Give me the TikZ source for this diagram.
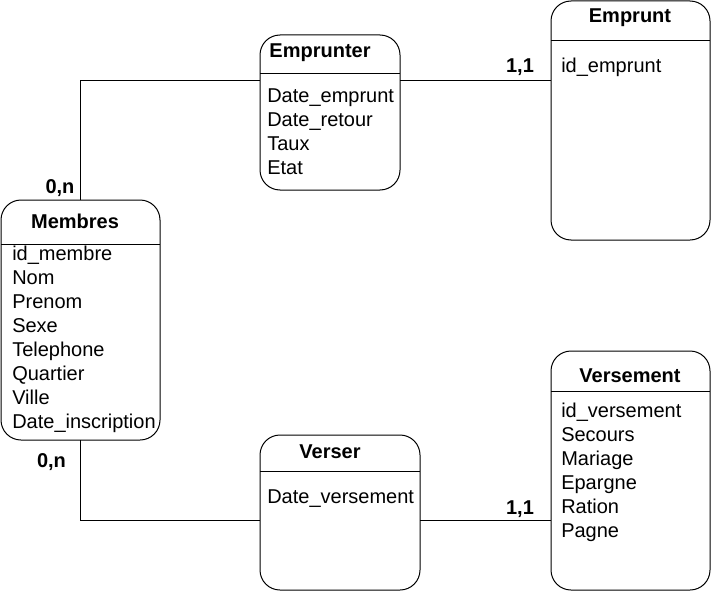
\documentclass[tikz,border=0pt]{standalone}
\usepackage{fontspec}
\setmainfont{Liberation Sans}
\usetikzlibrary{positioning}

\tikzset{
  entity/.style={draw, line width=0.75pt, rounded corners=15pt, anchor=north west, inner sep=0pt, outer sep=0pt},
  title/.style={anchor=base, font=\bfseries\fontsize{15pt}{18pt}\selectfont, inner sep=0pt},
  attr/.style={anchor=base west, font=\fontsize{15pt}{18pt}\selectfont, inner sep=0pt},
  card/.style={anchor=base, font=\bfseries\fontsize{15pt}{18pt}\selectfont, inner sep=0pt},
  link/.style={line width=0.75pt}
}

\begin{document}
\begin{tikzpicture}[x=0.75pt,y=0.75pt,yscale=-1,xscale=1]
\useasboundingbox (0,0) rectangle (713,592);

% Boxes
\node [entity, minimum width=105pt, minimum height=116.25pt] (emprunter) at (260,35) {};
\node [entity, minimum width=119.25pt, minimum height=179.25pt] (emprunt) at (551,1) {};
\node [entity, minimum width=119.25pt, minimum height=180pt] (membres) at (1,200) {};
\node [entity, minimum width=119.25pt, minimum height=179.25pt] (versement) at (551,351) {};
\node [entity, minimum width=120pt, minimum height=116.25pt] (verser) at (260,435) {};

% Header lines
\draw [link] (emprunter.west |- 0,74) -- (emprunter.east |- 0,74);
\draw [link] (emprunt.west |- 0,41) -- (emprunt.east |- 0,41);
\draw [link] (membres.west |- 0,244) -- (membres.east |- 0,244);
\draw [link] (versement.west |- 0,391) -- (versement.east |- 0,391);
\draw [link] (verser.west |- 0,471) -- (verser.east |- 0,471);

% Titles
\node [title] (emprunter-t) at (320,58) {Emprunter};
\node [title] (emprunt-t) at (630,23) {Emprunt};
\node [title] (membres-t) at (75,228) {Membres};
\node [title] (versement-t) at (630,382) {Versement};
\node [title] (verser-t) at (330,458) {Verser};

% Attributes
\foreach \a [count=\i from 0] in {Date\_emprunt,Date\_retour,Taux,Etat} {
  \node [attr] (emprunter-a\i) at (267,102+24*\i) {\a};
}
\node [attr] (emprunt-a0) at (561,73) {id\_emprunt};
\foreach \a [count=\i from 0] in {id\_membre,Nom,Prenom,Sexe,Telephone,Quartier,Ville,Date\_inscription} {
  \node [attr] (membres-a\i) at (12,260+24*\i) {\a};
}
\foreach \a [count=\i from 0] in {id\_versement,Secours,Mariage,Epargne,Ration,Pagne} {
  \node [attr] (versement-a\i) at (561,417+24*\i) {\a};
}
\node [attr] (verser-a0) at (267,503) {Date\_versement};

% Links
\draw [link] (membres.north) |- (emprunter.west |- 0,80);
\draw [link] (emprunter.east |- 0,80) -- (emprunt.west |- 0,80);
\draw [link] (membres.south) |- (verser.west |- 0,520);
\draw [link] (verser.east |- 0,520) -- (versement.west |- 0,520);

% Cardinalities
\node [card] (c1) at (60,193) {0,n};
\node [card] (c2) at (520,73) {1,1};
\node [card] (c3) at (51.5,467) {0,n};
\node [card] (c4) at (520,514) {1,1};

\end{tikzpicture}
\end{document}
